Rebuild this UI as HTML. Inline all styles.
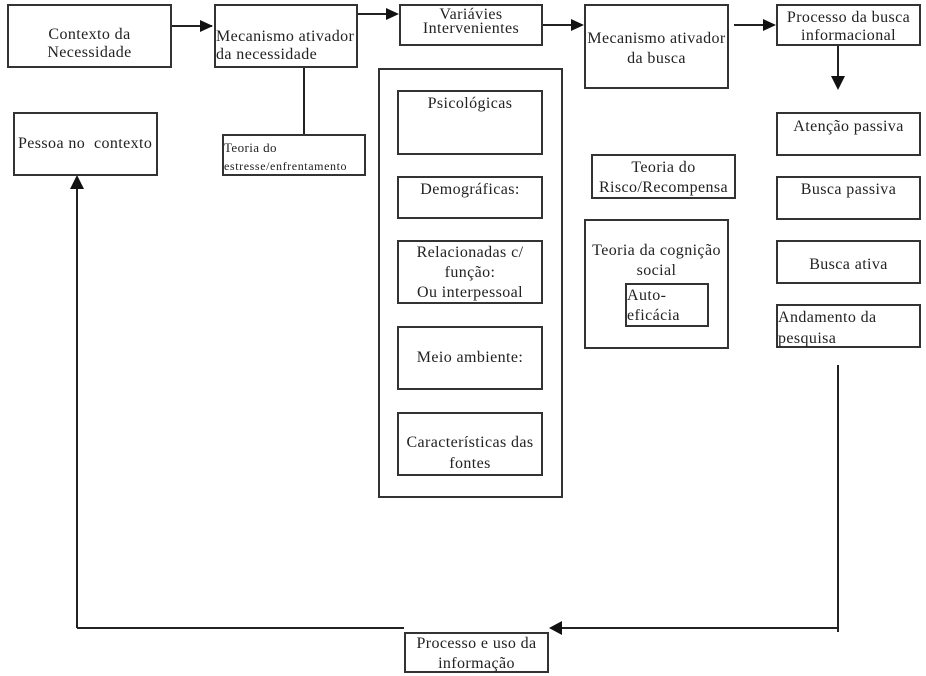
<!DOCTYPE html>
<html><head><meta charset="utf-8"><style>
body{margin:0;background:#fff;width:926px;height:676px;position:relative;overflow:hidden;font-family:"Liberation Serif",serif;color:#222}
.b{position:absolute;border:2px solid #333;box-sizing:border-box;font-size:16px;letter-spacing:0.4px;line-height:18px;text-align:center;background:#fff;white-space:nowrap}
.l{text-align:left}
</style></head><body>
<svg width="926" height="676" style="position:absolute;left:0;top:0">
<g stroke="#222" stroke-width="2" fill="none">
<line x1="172" y1="26" x2="212" y2="26"/><path d="M200,20L213,26L200,32z" fill="#111" stroke="none"/>
<line x1="358" y1="14" x2="397" y2="14"/><path d="M386,8L399,14L386,20z" fill="#111" stroke="none"/>
<line x1="543" y1="25" x2="582" y2="25"/><path d="M571,19L584,25L571,31z" fill="#111" stroke="none"/>
<line x1="734" y1="25" x2="774" y2="25"/><path d="M763,19L776,25L763,31z" fill="#111" stroke="none"/>
<line x1="838" y1="46" x2="838" y2="78"/><path d="M831,76L838,90L845,76z" fill="#111" stroke="none"/>
<line x1="304" y1="68" x2="304" y2="134"/>
<line x1="838" y1="365" x2="838" y2="632"/>
<line x1="838" y1="628" x2="560" y2="628"/><path d="M562,621L549,628L562,635z" fill="#111" stroke="none"/>
<line x1="404" y1="628" x2="77" y2="628"/>
<line x1="77" y1="628" x2="77" y2="188"/><path d="M70,189L77,175L84,189z" fill="#111" stroke="none"/>
</g></svg>
<div class="b" style="left:7px;top:4px;width:165px;height:64px;padding-top:20px">Contexto da<br>Necessidade</div>
<div class="b l" style="left:214px;top:4px;width:144px;height:64px;padding-top:22px">Mecanismo ativador<br>da necessidade</div>
<div class="b" style="left:399px;top:4px;width:144px;height:42px;line-height:14px;padding-top:2px">Variávies<br>Intervenientes</div>
<div class="b" style="left:584px;top:4px;width:145px;height:85px;padding-top:23px;line-height:20px">Mecanismo ativador<br>da busca</div>
<div class="b" style="left:776px;top:4px;width:145px;height:42px;padding-top:3px">Processo da busca<br>informacional</div>
<div class="b l" style="left:13px;top:112px;width:145px;height:64px;padding-top:21px;padding-left:3px">Pessoa no &nbsp;contexto</div>
<div class="b l" style="left:222px;top:134px;width:144px;height:42px;font-size:13px;padding-top:3px;line-height:18px">Teoria do<br><span style="font-size:12px;letter-spacing:0.6px">estresse/enfrentamento</span></div>
<div class="b" style="left:378px;top:68px;width:185px;height:430px"></div>
<div class="b" style="left:397px;top:90px;width:146px;height:65px;padding-top:3px">Psicológicas</div>
<div class="b" style="left:397px;top:176px;width:146px;height:43px;padding-top:3px">Demográficas:</div>
<div class="b" style="left:397px;top:240px;width:146px;height:64px;padding-top:1px;line-height:20px">Relacionadas c/<br>função:<br>Ou interpessoal</div>
<div class="b" style="left:397px;top:326px;width:146px;height:64px;padding-top:21px">Meio ambiente:</div>
<div class="b" style="left:397px;top:412px;width:146px;height:64px;padding-top:18px;line-height:21px">Características das<br>fontes</div>
<div class="b" style="left:591px;top:154px;width:145px;height:45px;padding-top:2px;line-height:20px">Teoria do<br>Risco/Recompensa</div>
<div class="b" style="left:584px;top:219px;width:145px;height:130px;padding-top:20px;line-height:20px">Teoria da cognição<br>social</div>
<div class="b l" style="left:625px;top:283px;width:84px;height:44px;padding-top:1px;line-height:20px">Auto-<br>eficácia</div>
<div class="b" style="left:776px;top:112px;width:145px;height:44px;padding-top:4px">Atenção passiva</div>
<div class="b" style="left:776px;top:176px;width:145px;height:44px;padding-top:3px">Busca passiva</div>
<div class="b" style="left:776px;top:240px;width:145px;height:44px;padding-top:14px">Busca ativa</div>
<div class="b l" style="left:776px;top:304px;width:145px;height:44px;padding-top:1px;line-height:21px">Andamento da<br>pesquisa</div>
<div class="b" style="left:404px;top:632px;width:145px;height:41px;padding-top:0px;line-height:20px">Processo e uso da<br>informação</div>
</body></html>
